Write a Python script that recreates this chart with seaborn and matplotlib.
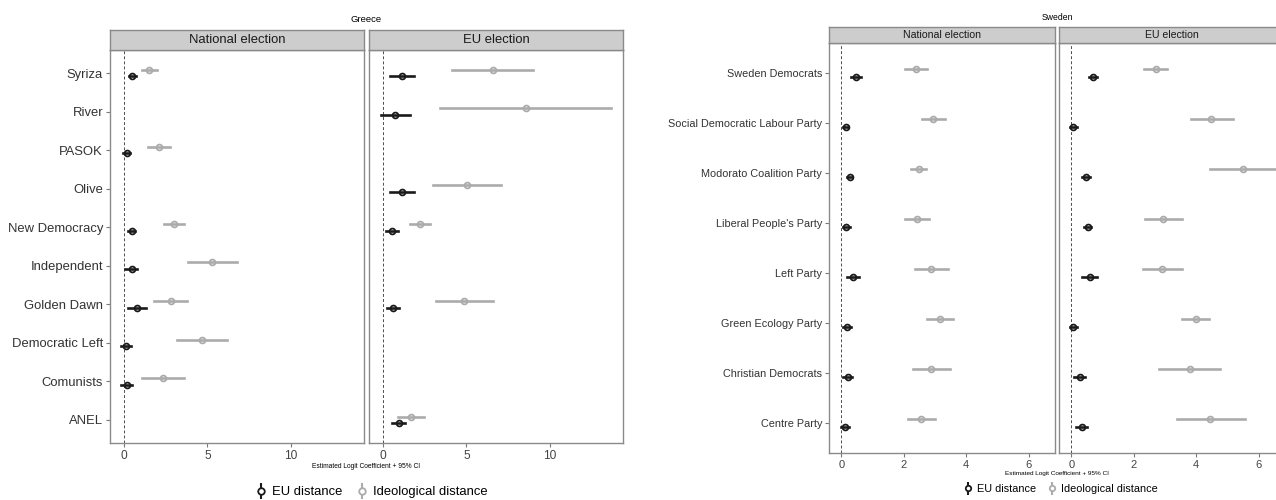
import numpy as np
import pandas as pd
import matplotlib
matplotlib.use("Agg")
import matplotlib.pyplot as plt
from matplotlib.lines import Line2D
from matplotlib.legend_handler import HandlerTuple
import seaborn as sns

nan = np.nan

# ---------------- Greece ----------------
greece_parties = ["Syriza", "River", "PASOK", "Olive", "New Democracy", "Independent",
                  "Golden Dawn", "Democratic Left", "Comunists", "ANEL"]

# National election: EU distance (estimate, lower, upper)
gr_nat_eu_est = [0.50, nan, 0.16, nan, 0.46, 0.46, 0.76, 0.12, 0.16, nan]
gr_nat_eu_lo = [0.30, nan, -0.05, nan, 0.25, 0.06, 0.26, -0.20, -0.20, nan]
gr_nat_eu_hi = [0.70, nan, 0.35, nan, 0.65, 0.80, 1.30, 0.40, 0.45, nan]
# National election: ideological distance
gr_nat_id_est = [1.50, nan, 2.10, nan, 3.00, 5.30, 2.80, 4.67, 2.35, nan]
gr_nat_id_lo = [1.06, nan, 1.42, nan, 2.40, 3.85, 1.80, 3.20, 1.10, nan]
gr_nat_id_hi = [1.96, nan, 2.75, nan, 3.60, 6.80, 3.75, 6.15, 3.60, nan]
# EU election: EU distance
gr_eu_eu_est = [1.12, 0.74, nan, 1.12, 0.52, nan, 0.58, nan, nan, 0.94]
gr_eu_eu_lo = [0.44, -0.14, nan, 0.44, 0.20, nan, 0.26, nan, nan, 0.54]
gr_eu_eu_hi = [1.84, 1.62, nan, 1.84, 0.90, nan, 0.94, nan, nan, 1.30]
# EU election: ideological distance
gr_eu_id_est = [6.57, 8.55, nan, 5.03, 2.20, nan, 4.85, nan, nan, 1.66]
gr_eu_id_lo = [4.15, 3.40, nan, 3.00, 1.60, nan, 3.17, nan, nan, 0.90]
gr_eu_id_hi = [8.98, 13.70, nan, 7.07, 2.84, nan, 6.59, nan, nan, 2.46]

# ---------------- Sweden ----------------
sweden_parties = ["Sweden Democrats", "Social Democratic Labour Party",
                  "Modorato Coalition Party", "Liberal People's Party", "Left Party",
                  "Green Ecology Party", "Christian Democrats", "Centre Party"]

se_nat_eu_est = [0.48, 0.13, 0.26, 0.16, 0.36, 0.18, 0.20, 0.10]
se_nat_eu_lo = [0.31, 0.05, 0.18, 0.06, 0.18, 0.05, 0.05, -0.02]
se_nat_eu_hi = [0.64, 0.21, 0.34, 0.26, 0.55, 0.32, 0.35, 0.23]
se_nat_id_est = [2.38, 2.95, 2.48, 2.43, 2.87, 3.16, 2.88, 2.56]
se_nat_id_lo = [2.03, 2.59, 2.24, 2.05, 2.35, 2.75, 2.30, 2.13]
se_nat_id_hi = [2.75, 3.33, 2.72, 2.82, 3.42, 3.58, 3.47, 3.01]
se_eu_eu_est = [0.68, 0.06, 0.48, 0.52, 0.58, 0.06, 0.26, 0.33]
se_eu_eu_lo = [0.55, -0.04, 0.35, 0.40, 0.33, -0.06, 0.09, 0.13]
se_eu_eu_hi = [0.82, 0.18, 0.60, 0.64, 0.82, 0.18, 0.45, 0.50]
se_eu_id_est = [2.70, 4.48, 5.49, 2.94, 2.90, 3.99, 3.79, 4.46]
se_eu_id_lo = [2.33, 3.84, 4.46, 2.35, 2.28, 3.54, 2.81, 3.38]
se_eu_id_hi = [3.06, 5.18, 6.55, 3.54, 3.54, 4.41, 4.75, 5.58]

EU_DIST = "EU distance"
IDEO_DIST = "Ideological distance"
HUE_ORDER = [IDEO_DIST, EU_DIST]
PALETTE = {EU_DIST: "#1a1a1a", IDEO_DIST: "#ababab"}
SPINE = "#8a8a8a"
STRIP_BG = "#cdcdcd"

plt.rcParams["font.family"] = ["Liberation Sans", "DejaVu Sans"]


def long_rows(parties, est, lo, hi, measure):
    """Three rows per estimate (lower, estimate, upper); median gives the point,
    min/max give the interval."""
    rows = []
    for p, e, l, h in zip(parties, est, lo, hi):
        if np.isnan(e):
            continue
        for v in (l, e, h):
            rows.append({"party": p, "measure": measure, "value": v})
    return rows


def ci_span(v):
    return (np.min(v), np.max(v))


def draw_panel(ax, data, parties, xlim, xticks, label_size, tick_size, dodge,
               show_y=True):
    sns.pointplot(data=data, x="value", y="party", hue="measure", order=parties,
                  hue_order=HUE_ORDER, palette=PALETTE, estimator="median",
                  errorbar=ci_span, dodge=dodge, markers="o", linestyles="none",
                  markersize=4.2, markerfacecolor="none", markeredgewidth=1.3,
                  err_kws={"linewidth": 1.9}, orient="h", legend=False, ax=ax)
    ax.axvline(0, color="#4d4d4d", lw=0.7, ls=(0, (3, 2.2)), zorder=0)
    ax.set_xlim(*xlim)
    ax.set_ylim(len(parties) - 1 + 0.6, -0.6)
    ax.set_xticks(xticks)
    ax.set_xticklabels([str(t) for t in xticks])
    ax.set_xlabel("")
    ax.set_ylabel("")
    ax.set_facecolor("white")
    for s in ax.spines.values():
        s.set_visible(True)
        s.set_color(SPINE)
        s.set_linewidth(1.0)
    ax.tick_params(axis="x", colors="#7a7a7a", labelcolor="#444444",
                   labelsize=tick_size, length=3, width=0.8, pad=2)
    if show_y:
        ax.set_yticks(range(len(parties)))
        ax.set_yticklabels(parties)
        ax.tick_params(axis="y", colors="#7a7a7a", labelcolor="#333333",
                       labelsize=label_size, length=3, width=0.8, pad=2)
    else:
        ax.set_yticks([])
    ax.grid(False)


def add_strip(fig, rect, text, size):
    sax = fig.add_axes(rect)
    sax.set_facecolor(STRIP_BG)
    sax.set_xticks([])
    sax.set_yticks([])
    for s in sax.spines.values():
        s.set_color(SPINE)
        s.set_linewidth(1.0)
    sax.text(0.5, 0.5, text, ha="center", va="center", fontsize=size,
             color="#1a1a1a", transform=sax.transAxes)


def legend_handles(size):
    hs = []
    for m in (EU_DIST, IDEO_DIST):
        c = PALETTE[m]
        bar = Line2D([], [], color=c, marker="|", markersize=size * 1.2,
                     markeredgewidth=1.5, ls="none")
        dot = Line2D([], [], color=c, marker="o", markersize=size * 0.5,
                     markerfacecolor="white", markeredgewidth=1.3, ls="none")
        hs.append((bar, dot))
    return hs


W, H = 1276, 500
fig = plt.figure(figsize=(W / 100, H / 100), dpi=100)
fig.patch.set_facecolor("white")


def fx(px):
    return px / W


def fy(py):
    return 1 - py / H


gr_rows = {
    "National election": long_rows(greece_parties, gr_nat_eu_est, gr_nat_eu_lo, gr_nat_eu_hi, EU_DIST)
    + long_rows(greece_parties, gr_nat_id_est, gr_nat_id_lo, gr_nat_id_hi, IDEO_DIST),
    "EU election": long_rows(greece_parties, gr_eu_eu_est, gr_eu_eu_lo, gr_eu_eu_hi, EU_DIST)
    + long_rows(greece_parties, gr_eu_id_est, gr_eu_id_lo, gr_eu_id_hi, IDEO_DIST),
}
se_rows = {
    "National election": long_rows(sweden_parties, se_nat_eu_est, se_nat_eu_lo, se_nat_eu_hi, EU_DIST)
    + long_rows(sweden_parties, se_nat_id_est, se_nat_id_lo, se_nat_id_hi, IDEO_DIST),
    "EU election": long_rows(sweden_parties, se_eu_eu_est, se_eu_eu_lo, se_eu_eu_hi, EU_DIST)
    + long_rows(sweden_parties, se_eu_id_est, se_eu_id_lo, se_eu_id_hi, IDEO_DIST),
}

# ---- Greece panels ----
gr_top, gr_bot, gr_strip_top = 50, 443, 30
gr_lefts = [(110, 364), (369, 623)]
for i, (elec, (l, r)) in enumerate(zip(["National election", "EU election"], gr_lefts)):
    ax = fig.add_axes([fx(l), fy(gr_bot), fx(r - l), (gr_bot - gr_top) / H])
    draw_panel(ax, pd.DataFrame(gr_rows[elec]), greece_parties, (-0.85, 14.4), [0, 5, 10],
               9.4, 8.6, 0.17, show_y=(i == 0))
    add_strip(fig, [fx(l), fy(gr_top), fx(r - l), (gr_top - gr_strip_top) / H], elec, 9.4)

fig.text(fx(366), fy(19), "Greece", ha="center", va="center", fontsize=6.8)
fig.text(fx(366), fy(467), "Estimated Logit Coefficient + 95% CI", ha="center",
         va="center", fontsize=4.8)
fig.legend(legend_handles(9.4), [EU_DIST, IDEO_DIST], loc="center",
           bbox_to_anchor=(fx(372), fy(492)), ncol=2, frameon=False, fontsize=9.4,
           handler_map={tuple: HandlerTuple(ndivide=1)}, handlelength=0.7,
           handletextpad=0.5, columnspacing=1.1)

# ---- Sweden panels ----
se_top, se_bot, se_strip_top = 43, 453, 27
se_lefts = [(829, 1055), (1059, 1285)]
for i, (elec, (l, r)) in enumerate(zip(["National election", "EU election"], se_lefts)):
    ax = fig.add_axes([fx(l), fy(se_bot), fx(r - l), (se_bot - se_top) / H])
    draw_panel(ax, pd.DataFrame(se_rows[elec]), sweden_parties, (-0.4, 6.85), [0, 2, 4, 6],
               7.8, 8.0, 0.15, show_y=(i == 0))
    add_strip(fig, [fx(l), fy(se_top), fx(r - l), (se_top - se_strip_top) / H], elec, 7.6)

fig.text(fx(1057), fy(17), "Sweden", ha="center", va="center", fontsize=6.2)
fig.text(fx(1057), fy(473), "Estimated Logit Coefficient + 95% CI", ha="center",
         va="center", fontsize=4.6)
fig.legend(legend_handles(7.8), [EU_DIST, IDEO_DIST], loc="center",
           bbox_to_anchor=(fx(1061), fy(489)), ncol=2, frameon=False, fontsize=7.8,
           handler_map={tuple: HandlerTuple(ndivide=1)}, handlelength=0.7,
           handletextpad=0.5, columnspacing=1.1)

fig.savefig("out.png", dpi=100, facecolor="white")
